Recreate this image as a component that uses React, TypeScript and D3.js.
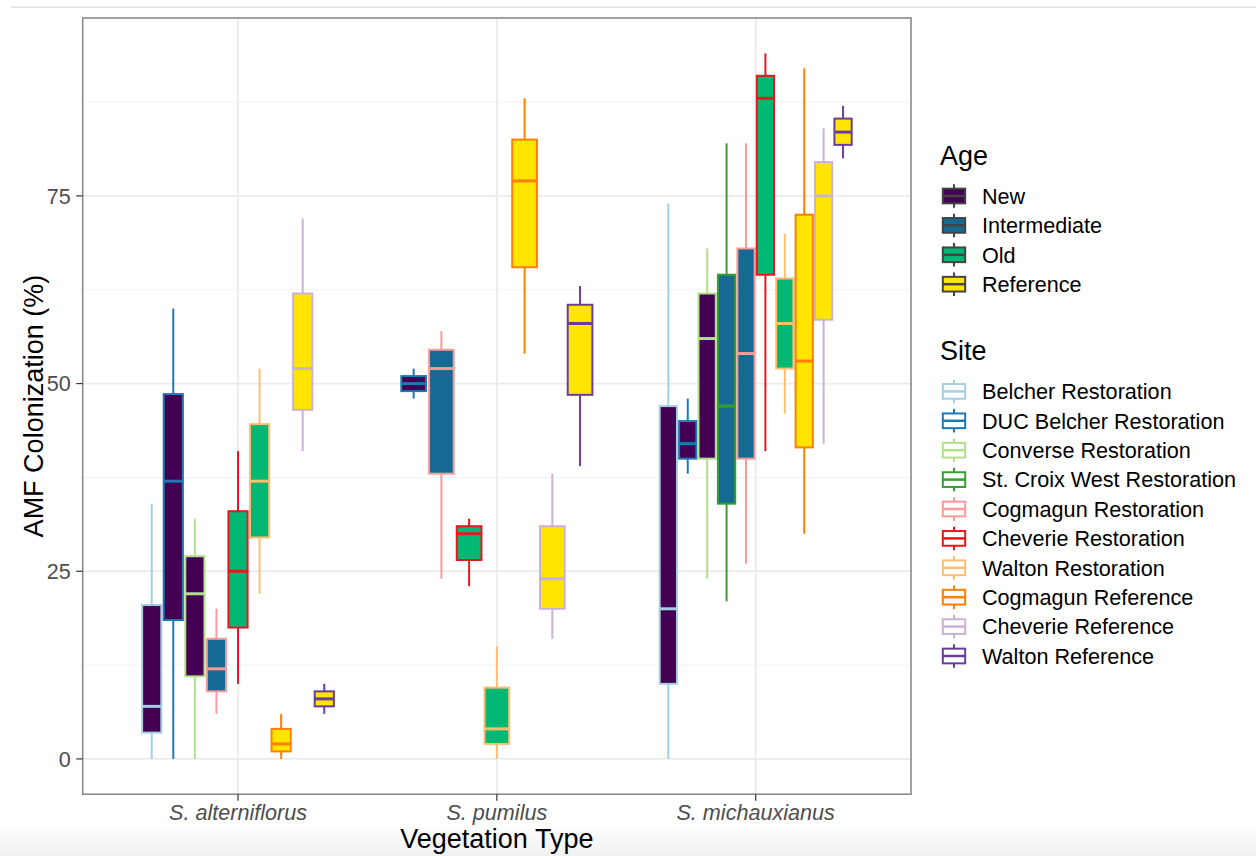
import React, { useEffect, useRef } from 'react';
import * as d3 from 'd3';

const categories = ['S. alterniflorus', 'S. pumilus', 'S. michauxianus'];

const ages = ['New', 'Intermediate', 'Old', 'Reference'];
const ageColors = ['#440154', '#146A92', '#00B873', '#FFE500'];

const sites = [
    'Belcher Restoration', 'DUC Belcher Restoration', 'Converse Restoration',
    'St. Croix West Restoration', 'Cogmagun Restoration', 'Cheverie Restoration',
    'Walton Restoration', 'Cogmagun Reference', 'Cheverie Reference', 'Walton Reference'
];
const siteColors = ['#A6CEE3', '#1F78B4', '#B2DF8A', '#33A02C', '#FB9A99',
    '#E8171B', '#FDBF6F', '#FF7F00', '#CAB2D6', '#6A3D9A'];
const siteAge = ['New', 'New', 'New', 'Intermediate', 'Intermediate', 'Old',
    'Old', 'Reference', 'Reference', 'Reference'];

// [site, lower whisker, q1, median, q3, upper whisker]
const alterniflorus = [
    ['Belcher Restoration', 0, 3.5, 7, 20.5, 34],
    ['DUC Belcher Restoration', 0, 18.5, 37, 48.6, 60],
    ['Converse Restoration', 0, 11, 22, 27, 32],
    ['Cogmagun Restoration', 6, 9, 12, 16, 20],
    ['Cheverie Restoration', 10, 17.5, 25, 33, 41],
    ['Walton Restoration', 22, 29.5, 37, 44.6, 52],
    ['Cogmagun Reference', 0, 1, 2, 4, 6],
    ['Cheverie Reference', 41, 46.5, 52, 62, 72],
    ['Walton Reference', 6, 7, 8, 9, 10]
];
const pumilus = [
    ['DUC Belcher Restoration', 48, 49, 50, 51, 52],
    ['Cogmagun Restoration', 24, 38, 52, 54.5, 57],
    ['Cheverie Restoration', 23, 26.5, 30, 31, 32],
    ['Walton Restoration', 0, 2, 4, 9.5, 15],
    ['Cogmagun Reference', 54, 65.5, 77, 82.5, 88],
    ['Cheverie Reference', 16, 20, 24, 31, 38],
    ['Walton Reference', 39, 48.5, 58, 60.5, 63]
];
const michauxianus = [
    ['Belcher Restoration', 0, 10, 20, 47, 74],
    ['DUC Belcher Restoration', 38, 40, 42, 45, 48],
    ['Converse Restoration', 24, 40, 56, 62, 68],
    ['St. Croix West Restoration', 21, 34, 47, 64.5, 82],
    ['Cogmagun Restoration', 26, 40, 54, 68, 82],
    ['Cheverie Restoration', 41, 64.5, 88, 91, 94],
    ['Walton Restoration', 46, 52, 58, 64, 70],
    ['Cogmagun Reference', 30, 41.5, 53, 72.5, 92],
    ['Cheverie Reference', 42, 58.5, 75, 79.5, 84],
    ['Walton Reference', 80, 81.8, 83.5, 85.3, 87]
];
const groups = [alterniflorus, pumilus, michauxianus];

const yTicks = [0, 25, 50, 75];
const yMinor = [12.5, 37.5, 62.5, 87.5];

const FONT = '"Liberation Sans", Arial, Helvetica, sans-serif';

const createChart = (container) => {
    d3.select(container).selectAll('*').remove();
    const W = 1256, H = 856;
    const panel = { left: 82.7, right: 911, top: 18, bottom: 794.2 };

    const svg = d3.select(container).attr('width', W).attr('height', H);

    // screenshot artifacts: thin top rule, grey band at bottom
    const defs = svg.append('defs');
    const grad = defs.append('linearGradient').attr('id', 'fade').attr('x1', 0).attr('x2', 0).attr('y1', 0).attr('y2', 1);
    grad.append('stop').attr('offset', '0%').attr('stop-color', '#ffffff');
    grad.append('stop').attr('offset', '100%').attr('stop-color', '#f0f0f0');
    svg.append('rect').attr('x', 0).attr('y', 0).attr('width', W).attr('height', H).attr('fill', '#fff');
    svg.append('rect').attr('x', 0).attr('y', 826).attr('width', W).attr('height', 30).attr('fill', 'url(#fade)');
    svg.append('line').attr('x1', 11).attr('x2', W).attr('y1', 7.3).attr('y2', 7.3)
        .attr('stroke', '#dde3e1').attr('stroke-width', 1.5);

    const allVals = groups.flat().flatMap(d => [d[1], d[5]]);
    const lo = d3.min(allVals), hi = d3.max(allVals);
    const pad = (hi - lo) * 0.05;
    const y = d3.scaleLinear().domain([lo - pad, hi + pad]).range([panel.bottom, panel.top]);
    const x = d3.scalePoint().domain(categories).range([panel.left, panel.right]).padding(0.6);
    const step = x.step();
    const dodge = 0.75 * step;

    const ageColor = d3.scaleOrdinal().domain(ages).range(ageColors);
    const siteColor = d3.scaleOrdinal().domain(sites).range(siteColors);
    const ageOf = d3.scaleOrdinal().domain(sites).range(siteAge);

    const chart = svg.append('g');

    // grid
    chart.selectAll('.minor').data(yMinor).enter().append('line')
        .attr('x1', panel.left).attr('x2', panel.right)
        .attr('y1', d => y(d)).attr('y2', d => y(d))
        .attr('stroke', '#f2f2f2').attr('stroke-width', 1);
    chart.selectAll('.major').data(yTicks).enter().append('line')
        .attr('x1', panel.left).attr('x2', panel.right)
        .attr('y1', d => y(d)).attr('y2', d => y(d))
        .attr('stroke', '#ebebeb').attr('stroke-width', 1.8);
    chart.selectAll('.xgrid').data(categories).enter().append('line')
        .attr('x1', d => x(d)).attr('x2', d => x(d))
        .attr('y1', panel.top).attr('y2', panel.bottom)
        .attr('stroke', '#ebebeb').attr('stroke-width', 1.8);

    // boxes
    groups.forEach((rows, gi) => {
        const cx = x(categories[gi]);
        const band = d3.scaleBand().domain(rows.map(r => r[0]))
            .range([cx - dodge / 2, cx + dodge / 2]).padding(0);
        const bw = band.bandwidth() * 0.89;
        const g = chart.append('g');
        rows.forEach(r => {
            const [site, w0, q1, med, q3, w1] = r;
            const mx = band(site) + band.bandwidth() / 2;
            const col = siteColor(site);
            g.append('line').attr('x1', mx).attr('x2', mx).attr('y1', y(w1)).attr('y2', y(q3))
                .attr('stroke', col).attr('stroke-width', 2);
            g.append('line').attr('x1', mx).attr('x2', mx).attr('y1', y(q1)).attr('y2', y(w0))
                .attr('stroke', col).attr('stroke-width', 2);
            g.append('rect').attr('x', mx - bw / 2).attr('width', bw)
                .attr('y', y(q3)).attr('height', y(q1) - y(q3))
                .attr('fill', ageColor(ageOf(site))).attr('stroke', col).attr('stroke-width', 2);
            g.append('line').attr('x1', mx - bw / 2).attr('x2', mx + bw / 2)
                .attr('y1', y(med)).attr('y2', y(med))
                .attr('stroke', col).attr('stroke-width', 3);
        });
    });

    // panel border
    chart.append('rect').attr('x', panel.left).attr('y', panel.top)
        .attr('width', panel.right - panel.left).attr('height', panel.bottom - panel.top)
        .attr('fill', 'none').attr('stroke', '#8a8a8a').attr('stroke-width', 1.6);

    // y axis
    const yAxis = chart.append('g');
    yAxis.selectAll('line').data(yTicks).enter().append('line')
        .attr('x1', panel.left - 6.5).attr('x2', panel.left)
        .attr('y1', d => y(d)).attr('y2', d => y(d))
        .attr('stroke', '#333').attr('stroke-width', 1.2);
    yAxis.selectAll('text').data(yTicks).enter().append('text')
        .attr('x', panel.left - 12).attr('y', d => y(d)).attr('dy', '0.36em')
        .attr('text-anchor', 'end').attr('fill', '#4d4d4d')
        .style('font-family', FONT).style('font-size', '21.6px')
        .text(d => d);

    // x axis
    const xAxis = chart.append('g');
    xAxis.selectAll('line').data(categories).enter().append('line')
        .attr('x1', d => x(d)).attr('x2', d => x(d))
        .attr('y1', panel.bottom).attr('y2', panel.bottom + 6.5)
        .attr('stroke', '#333').attr('stroke-width', 1.2);
    xAxis.selectAll('text').data(categories).enter().append('text')
        .attr('x', d => x(d)).attr('y', 820)
        .attr('text-anchor', 'middle').attr('fill', '#4d4d4d')
        .style('font-family', FONT).style('font-size', '21.6px').style('font-style', 'italic')
        .text(d => d);

    // axis titles
    svg.append('text').attr('x', (panel.left + panel.right) / 2).attr('y', 847.5)
        .attr('text-anchor', 'middle').attr('fill', '#000')
        .style('font-family', FONT).style('font-size', '27px')
        .text('Vegetation Type');
    svg.append('text')
        .attr('transform', `translate(42.5,${(panel.top + panel.bottom) / 2}) rotate(-90)`)
        .attr('text-anchor', 'middle').attr('fill', '#000')
        .style('font-family', FONT).style('font-size', '27px')
        .text('AMF Colonization (%)');

    // legends
    const keyW = 28, keyH = 29.4, keyX = 940, labelX = 982;
    const drawKey = (g, cy, fill, stroke) => {
        const top = cy - keyH / 2;
        g.append('line').attr('x1', keyX + keyW / 2).attr('x2', keyX + keyW / 2)
            .attr('y1', top + keyH * 0.1).attr('y2', top + keyH * 0.9)
            .attr('stroke', stroke).attr('stroke-width', 2);
        g.append('rect').attr('x', keyX + keyW * 0.1).attr('y', top + keyH * 0.25)
            .attr('width', keyW * 0.8).attr('height', keyH * 0.5)
            .attr('fill', fill).attr('stroke', stroke).attr('stroke-width', 2);
        g.append('line').attr('x1', keyX + keyW * 0.1).attr('x2', keyX + keyW * 0.9)
            .attr('y1', cy).attr('y2', cy).attr('stroke', stroke).attr('stroke-width', 2.5);
    };
    const legend = svg.append('g');
    legend.append('text').attr('x', keyX).attr('y', 165)
        .style('font-family', FONT).style('font-size', '27px').text('Age');
    ages.forEach((a, i) => {
        const cy = 196 + i * keyH;
        drawKey(legend, cy, ageColor(a), '#444');
        legend.append('text').attr('x', labelX).attr('y', cy).attr('dy', '0.36em')
            .style('font-family', FONT).style('font-size', '21.6px').text(a);
    });
    legend.append('text').attr('x', keyX).attr('y', 360)
        .style('font-family', FONT).style('font-size', '27px').text('Site');
    sites.forEach((s, i) => {
        const cy = 391.4 + i * keyH;
        drawKey(legend, cy, '#fff', siteColor(s));
        legend.append('text').attr('x', labelX).attr('y', cy).attr('dy', '0.36em')
            .style('font-family', FONT).style('font-size', '21.6px').text(s);
    });
};

const App = () => {
    const ref = useRef(null);
    useEffect(() => {
        if (ref.current) {
            createChart(ref.current);
        }
    }, []);
    return (
        <div style={{ position: 'absolute', left: 0, top: 0 }}>
            <svg ref={ref} style={{ display: 'block' }} />
        </div>
    );
};

export default App;
